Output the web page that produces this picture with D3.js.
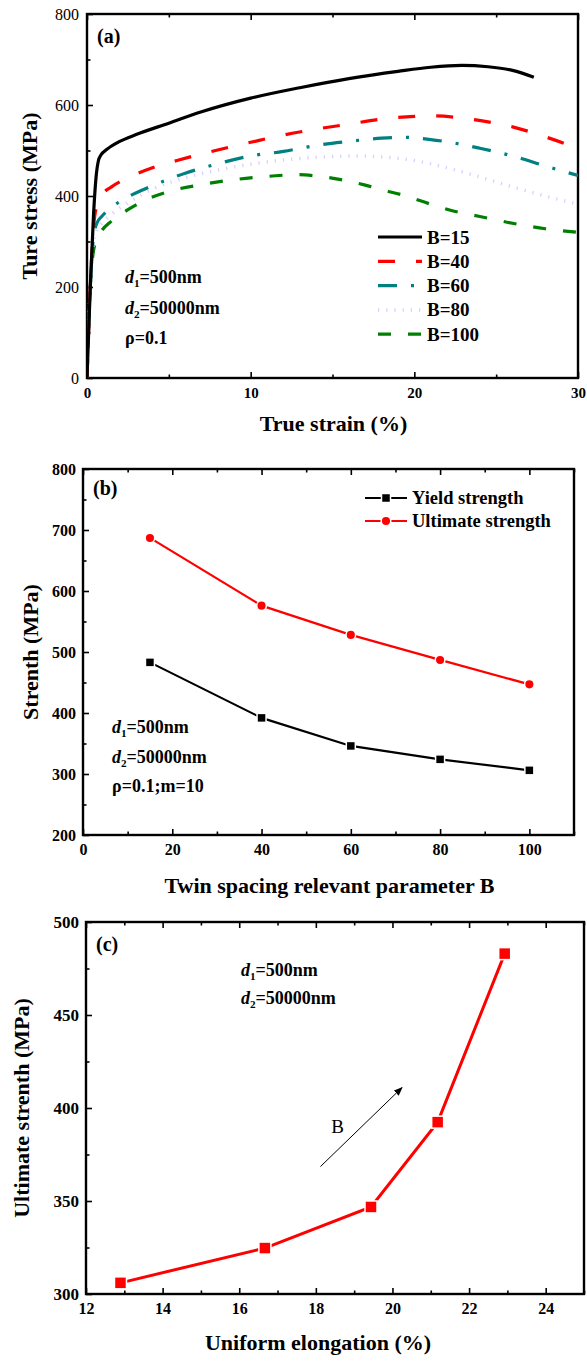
<!DOCTYPE html>
<html><head><meta charset="utf-8">
<script src="https://cdn.jsdelivr.net/npm/d3@7"></script>
<style>
html,body{margin:0;padding:0;background:#fff;}
svg text{font-family:"Liberation Serif","Times New Roman",serif;}
</style></head>
<body>
<svg id="chart" width="587" height="1361"></svg>
<script>
// ---------- DATA ----------
// (a) stress-strain curves
const curveNames = ["B=15","B=40","B=60","B=80","B=100"];
const strainB15 = [0,0.2,0.4,0.55,0.7,0.85,1.2,2,3,5,7,10,13,16,19,21,22.9,24.5,26,27.3];
const stressB15 = [0,200,360,440,478,490,502,520,535,560,585,615,638,658,674,683,687,684,676,661];
const strainB40 = [0,0.2,0.4,0.6,0.9,1.5,2.5,4,5.5,7.5,10,12,14,16,18,20,21.2,23,24.5,26,28,30];
const stressB40 = [0,200,330,380,402,420,440,462,478,497,518,534,547,558,569,575,576,571,563,552,530,505];
const strainB60 = [0,0.2,0.4,0.6,0.9,1.5,2.5,3.5,5,6,8,10,12,14,16,18,19.4,21,22.5,24,26,28,30];
const stressB60 = [0,200,310,340,355,375,398,415,437,450,471,488,498,511,520,527,529,524,516,505,488,466,445];
const strainB80 = [0,0.2,0.4,0.6,0.9,1.5,2.5,4,6,8,10,12,14,16.7,18,20,22,24,26,28,30];
const stressB80 = [0,200,300,325,340,360,385,415,440,457,470,479,485,488,486,478,462,442,420,400,382];
const strainB100 = [0,0.2,0.4,0.55,0.8,1.5,2.5,3.5,5,7,9,11,12.9,14,15.5,17,18,19.5,21,22.5,24,26,28,30];
const stressB100 = [0,200,280,300,318,345,370,390,410,425,436,443,447,444,436,424,414,400,382,366,355,340,328,320];

// (b) strength vs B
const paramB = [15,40,60,80,100];
const yieldStrength = [483,392,346,324,306];
const ultimateStrength = [687,576,528,487,447];

// (c) strength vs uniform elongation
const uniformElongation = [12.9,16.67,19.44,21.18,22.93];
const strengthC = [306,324.7,346.8,392.4,483];

// tick values
const aXTicks = [0,10,20,30], aXMinor = [5,15,25];
const aYTicks = [0,200,400,600,800], aYMinor = [100,300,500,700];
const bXTicks = [0,20,40,60,80,100], bXMinor = [10,30,50,70,90,110];
const bYTicks = [200,300,400,500,600,700,800], bYMinor = [250,350,450,550,650,750];
const cXTicks = [12,14,16,18,20,22,24], cXMinor = [13,15,17,19,21,23,25];
const cYTicks = [300,350,400,450,500], cYMinor = [325,375,425,475];

// ---------- DRAW ----------
const svg = d3.select("#chart");
const FONT = '"Liberation Serif","Times New Roman",serif';

function panel(cfg){
  const g = svg.append("g");
  const x = d3.scaleLinear().domain(cfg.xDomain).range([cfg.left, cfg.right]);
  const y = d3.scaleLinear().domain(cfg.yDomain).range([cfg.bottom, cfg.top]);
  const bx = g.append("g").attr("transform",`translate(0,${cfg.bottom})`)
    .call(d3.axisBottom(x).tickValues(cfg.xTicks).tickSize(-6).tickPadding(cfg.xPad).tickFormat(d3.format("d")));
  bx.selectAll("text").attr("font-size",cfg.xFont).attr("font-weight","bold").attr("font-family",FONT).attr("fill","#000");
  g.append("g").attr("transform",`translate(0,${cfg.bottom})`)
    .call(d3.axisBottom(x).tickValues(cfg.xMinor).tickSize(-3.5).tickFormat(""));
  g.append("g").attr("transform",`translate(0,${cfg.top})`)
    .call(d3.axisTop(x).tickValues(cfg.xTicks).tickSize(-6).tickFormat(""));
  g.append("g").attr("transform",`translate(0,${cfg.top})`)
    .call(d3.axisTop(x).tickValues(cfg.xMinor).tickSize(-3.5).tickFormat(""));
  const ly = g.append("g").attr("transform",`translate(${cfg.left},0)`)
    .call(d3.axisLeft(y).tickValues(cfg.yTicks).tickSize(-6).tickPadding(cfg.yPad).tickFormat(d3.format("d")));
  ly.selectAll("text").attr("font-size",cfg.yFont).attr("font-weight",cfg.yBold?"bold":"normal").attr("font-family",FONT).attr("fill","#000");
  g.append("g").attr("transform",`translate(${cfg.left},0)`)
    .call(d3.axisLeft(y).tickValues(cfg.yMinor).tickSize(-3.5).tickFormat(""));
  g.selectAll(".domain").remove();
  g.selectAll(".tick line").attr("stroke","#000").attr("stroke-width",1.6);
  g.append("rect").attr("x",cfg.left).attr("y",cfg.top)
    .attr("width",cfg.right-cfg.left).attr("height",cfg.bottom-cfg.top)
    .attr("fill","none").attr("stroke","#000").attr("stroke-width",2.4);
  g.append("text").attr("x",(cfg.left+cfg.right)/2 - cfg.xTitleShift).attr("y",cfg.xTitleY)
    .attr("text-anchor","middle").attr("font-size",cfg.titleFont).attr("font-weight","bold").text(cfg.xTitle);
  g.append("text").attr("transform",`translate(${cfg.yTitleX},${(cfg.top+cfg.bottom)/2}) rotate(-90)`)
    .attr("text-anchor","middle").attr("font-size",cfg.titleFont).attr("font-weight","bold").text(cfg.yTitle);
  g.append("text").attr("x",cfg.left+10).attr("y",cfg.top+cfg.labelDy)
    .attr("font-size",20).attr("font-weight","bold").text(cfg.label);
  const cid = "clip"+cfg.label.replace(/\W/g,"");
  svg.append("clipPath").attr("id",cid).append("rect")
    .attr("x",cfg.left).attr("y",cfg.top).attr("width",cfg.right-cfg.left).attr("height",cfg.bottom-cfg.top);
  return {g,x,y,cid};
}

function noteLines(g, x0, y0, dy, lines, size){
  lines.forEach((ln,i)=>{
    const t = g.append("text").attr("x",x0).attr("y",y0+i*dy).attr("font-size",size).attr("font-weight","bold");
    if(ln.sub){
      t.append("tspan").attr("font-style","italic").text("d");
      t.append("tspan").attr("font-size",size*0.62).attr("dy",4).text(ln.sub);
      t.append("tspan").attr("dy",-4).text(ln.rest);
    } else t.text(ln.rest);
  });
}

// ---- Panel (a)
const A = panel({left:87,right:578,top:14,bottom:378,xDomain:[0,30],yDomain:[0,800],
  xTicks:aXTicks,xMinor:aXMinor,yTicks:aYTicks,yMinor:aYMinor,
  xFont:15,yFont:16,yBold:false,xPad:9,yPad:8,titleFont:22,
  xTitle:"True strain (%)",xTitleY:431,xTitleShift:-1,yTitle:"Ture stress (MPa)",yTitleX:37,
  label:"(a)",labelDy:29});
const aSeries = [
  {name:curveNames[0],sx:strainB15,sy:stressB15,color:"#000000",dash:null,w:3.2},
  {name:curveNames[1],sx:strainB40,sy:stressB40,color:"#ff0000",dash:"17,21",w:3.2},
  {name:curveNames[2],sx:strainB60,sy:stressB60,color:"#008080",dash:"19,14,3,14",w:3.2},
  {name:curveNames[3],sx:strainB80,sy:stressB80,color:"#d9ccff",dash:"1.2,7",w:3.5},
  {name:curveNames[4],sx:strainB100,sy:stressB100,color:"#008000",dash:"13,17",w:3.2}
];
const lineA = d3.line().x(d=>A.x(d[0])).y(d=>A.y(d[1])).curve(d3.curveMonotoneX);
const curvesG = A.g.append("g").attr("clip-path",`url(#${A.cid})`);
aSeries.slice().reverse().forEach(s=>{
  curvesG.append("path").datum(s.sx.map((v,i)=>[v,s.sy[i]]))
    .attr("d",lineA).attr("fill","none").attr("stroke",s.color).attr("stroke-width",s.w)
    .attr("stroke-dasharray",s.dash);
});
aSeries.forEach((s,i)=>{
  const yy = 237 + i*24.3;
  A.g.append("line").attr("x1",378).attr("x2",422).attr("y1",yy).attr("y2",yy)
    .attr("stroke",s.color).attr("stroke-width",s.w).attr("stroke-dasharray",s.dash);
  A.g.append("text").attr("x",427).attr("y",yy+6.5).attr("font-size",19).attr("font-weight","bold").text(s.name);
});
noteLines(A.g,125,283,30.5,[{sub:"1",rest:"=500nm"},{sub:"2",rest:"=50000nm"},{rest:"ρ=0.1"}],18);

// ---- Panel (b)
const Bp = panel({left:83,right:574,top:469,bottom:835,xDomain:[0,110],yDomain:[200,800],
  xTicks:bXTicks,xMinor:bXMinor,yTicks:bYTicks,yMinor:bYMinor,
  xFont:16,yFont:16,yBold:true,xPad:9,yPad:7,titleFont:22,
  xTitle:"Twin spacing relevant parameter B",xTitleY:893,xTitleShift:-1,yTitle:"Strenth (MPa)",yTitleX:38,
  label:"(b)",labelDy:26});
const lineB = d3.line().x(d=>Bp.x(d[0])).y(d=>Bp.y(d[1]));
const yData = paramB.map((b,i)=>[b,yieldStrength[i]]);
const uData = paramB.map((b,i)=>[b,ultimateStrength[i]]);
Bp.g.append("path").datum(yData).attr("d",lineB).attr("fill","none").attr("stroke","#000").attr("stroke-width",2.2);
Bp.g.append("path").datum(uData).attr("d",lineB).attr("fill","none").attr("stroke","#ff0000").attr("stroke-width",2.2);
Bp.g.selectAll(".sq").data(yData).enter().append("rect")
  .attr("x",d=>Bp.x(d[0])-4.5).attr("y",d=>Bp.y(d[1])-4.5).attr("width",9).attr("height",9)
  .attr("fill","#000").attr("stroke","#fff").attr("stroke-width",1.5);
Bp.g.selectAll(".ci").data(uData).enter().append("circle")
  .attr("cx",d=>Bp.x(d[0])).attr("cy",d=>Bp.y(d[1])).attr("r",4.8)
  .attr("fill","#ff0000").attr("stroke","#fff").attr("stroke-width",1.5);
[["Yield strength","#000","sq"],["Ultimate strength","#ff0000","ci"]].forEach((L,i)=>{
  const yy = 498 + i*23;
  Bp.g.append("line").attr("x1",365).attr("x2",407).attr("y1",yy).attr("y2",yy).attr("stroke",L[1]).attr("stroke-width",2.2);
  if(L[2]==="sq") Bp.g.append("rect").attr("x",386-4.5).attr("y",yy-4.5).attr("width",9).attr("height",9).attr("fill",L[1]).attr("stroke","#fff").attr("stroke-width",1.5);
  else Bp.g.append("circle").attr("cx",386).attr("cy",yy).attr("r",4.8).attr("fill",L[1]).attr("stroke","#fff").attr("stroke-width",1.5);
  Bp.g.append("text").attr("x",412).attr("y",yy+6).attr("font-size",18.5).attr("font-weight","bold").text(L[0]);
});
noteLines(Bp.g,112,733,29.5,[{sub:"1",rest:"=500nm"},{sub:"2",rest:"=50000nm"},{rest:"ρ=0.1;m=10"}],18);

// ---- Panel (c)
const C = panel({left:86,right:584,top:922,bottom:1294,xDomain:[12,25],yDomain:[300,500],
  xTicks:cXTicks,xMinor:cXMinor,yTicks:cYTicks,yMinor:cYMinor,
  xFont:16,yFont:17,yBold:true,xPad:9,yPad:7,titleFont:22,
  xTitle:"Uniform elongation (%)",xTitleY:1350,xTitleShift:17,yTitle:"Ultimate strenth (MPa)",yTitleX:29,
  label:"(c)",labelDy:29});
const cData = uniformElongation.map((e,i)=>[e,strengthC[i]]);
const lineC = d3.line().x(d=>C.x(d[0])).y(d=>C.y(d[1]));
C.g.append("path").datum(cData).attr("d",lineC).attr("fill","none").attr("stroke","#ff0000").attr("stroke-width",3);
C.g.selectAll(".sq").data(cData).enter().append("rect")
  .attr("x",d=>C.x(d[0])-6).attr("y",d=>C.y(d[1])-6).attr("width",12).attr("height",12)
  .attr("fill","#ff0000").attr("stroke","#fff").attr("stroke-width",1.5);
noteLines(C.g,241,976,28,[{sub:"1",rest:"=500nm"},{sub:"2",rest:"=50000nm"}],18);
svg.append("defs").append("marker").attr("id","arr").attr("viewBox","0 0 10 10").attr("refX",9).attr("refY",5)
  .attr("markerWidth",9).attr("markerHeight",9).attr("markerUnits","userSpaceOnUse").attr("orient","auto")
  .append("path").attr("d","M0,1 L10,5 L0,9 Z").attr("fill","#000");
C.g.append("line").attr("x1",C.x(18.12)).attr("y1",C.y(368.5)).attr("x2",C.x(20.25)).attr("y2",C.y(113.5/1.86*0+411)+0)
  .attr("stroke","#000").attr("stroke-width",1).attr("marker-end","url(#arr)");
C.g.append("text").attr("x",C.x(18.4)).attr("y",C.y(386.5)).attr("font-size",19).text("B");
</script>
</body></html>
